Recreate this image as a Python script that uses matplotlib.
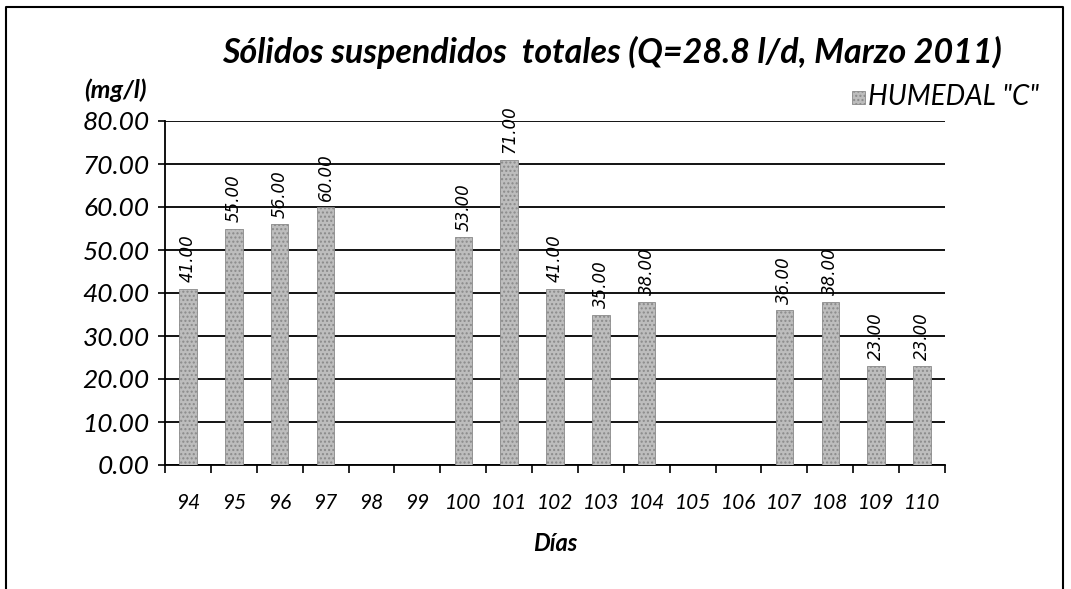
import matplotlib.pyplot as plt
import numpy as np

dias = list(range(94, 111))
valores = [41, 55, 56, 60, None, None, 53, 71, 41, 35, 38, None, None, 36, 38, 23, 23]
y_ticks = np.arange(0, 81, 10)

plt.rcParams["font.family"] = ["Lato", "DejaVu Sans"]

fig = plt.figure(figsize=(10.71, 5.89), dpi=100)
ax = fig.add_axes([165 / 1071, 1 - 465 / 589, 780 / 1071, 344 / 589])

x = np.arange(len(dias))
for xi, v in zip(x, valores):
    if v is None:
        continue
    ax.bar(xi, v, width=0.38, color="#bdbdbd", edgecolor="#8a8a8a",
           hatch="....", linewidth=0.6, zorder=3)
    ax.text(xi, v + 1.5, f"{v:.2f}", rotation=90, ha="center", va="bottom",
            fontsize=12, style="italic", family="DejaVu Sans", zorder=4)

ax.set_xlim(-0.5, len(dias) - 0.5)
ax.set_ylim(0, 80)
ax.set_yticks(y_ticks)
ax.set_yticklabels([f"{t:.2f}" for t in y_ticks], fontsize=19, style="italic")
ax.set_xticks(x)
ax.set_xticklabels([str(d) for d in dias], fontsize=15, style="italic")
ax.set_xticks(np.arange(-0.5, len(dias), 1), minor=True)
ax.tick_params(axis="x", which="major", length=0, pad=20)
ax.tick_params(axis="x", which="minor", length=6, direction="out", width=1.2)
ax.tick_params(axis="y", length=5, direction="out", width=1.2, pad=6)
ax.grid(axis="y", color="black", linewidth=1.3, zorder=0)
for s in ["top", "right"]:
    ax.spines[s].set_visible(False)
for s in ["left", "bottom"]:
    ax.spines[s].set_linewidth(1.3)

ax.set_xlabel("Días", fontsize=17, style="italic", weight="bold", labelpad=14)

fig.text(612 / 1071, 1 - 52 / 589, "Sólidos suspendidos  totales (Q=28.8 l/d, Marzo 2011)",
         ha="center", va="center", fontsize=24.5, style="italic", weight="bold")
fig.text(115 / 1071, 1 - 90 / 589, "(mg/l)", ha="center", va="center",
         fontsize=18, style="italic", weight="bold")

fig.patches.append(plt.Rectangle((852 / 1071, 1 - 104 / 589), 13 / 1071, 13 / 589,
                                 transform=fig.transFigure, facecolor="#bdbdbd",
                                 edgecolor="#8a8a8a", hatch="....", linewidth=0.6))
fig.text(868 / 1071, 1 - 97 / 589, 'HUMEDAL "C"', ha="left", va="center",
         fontsize=20, style="italic")

# marco exterior
fig.lines.append(plt.Line2D([6 / 1071, 6 / 1071, 1063 / 1071, 1063 / 1071],
                            [0, 1 - 7 / 589, 1 - 7 / 589, 0],
                            transform=fig.transFigure, color="black", linewidth=1.5))

fig.savefig("out.png", dpi=100)
